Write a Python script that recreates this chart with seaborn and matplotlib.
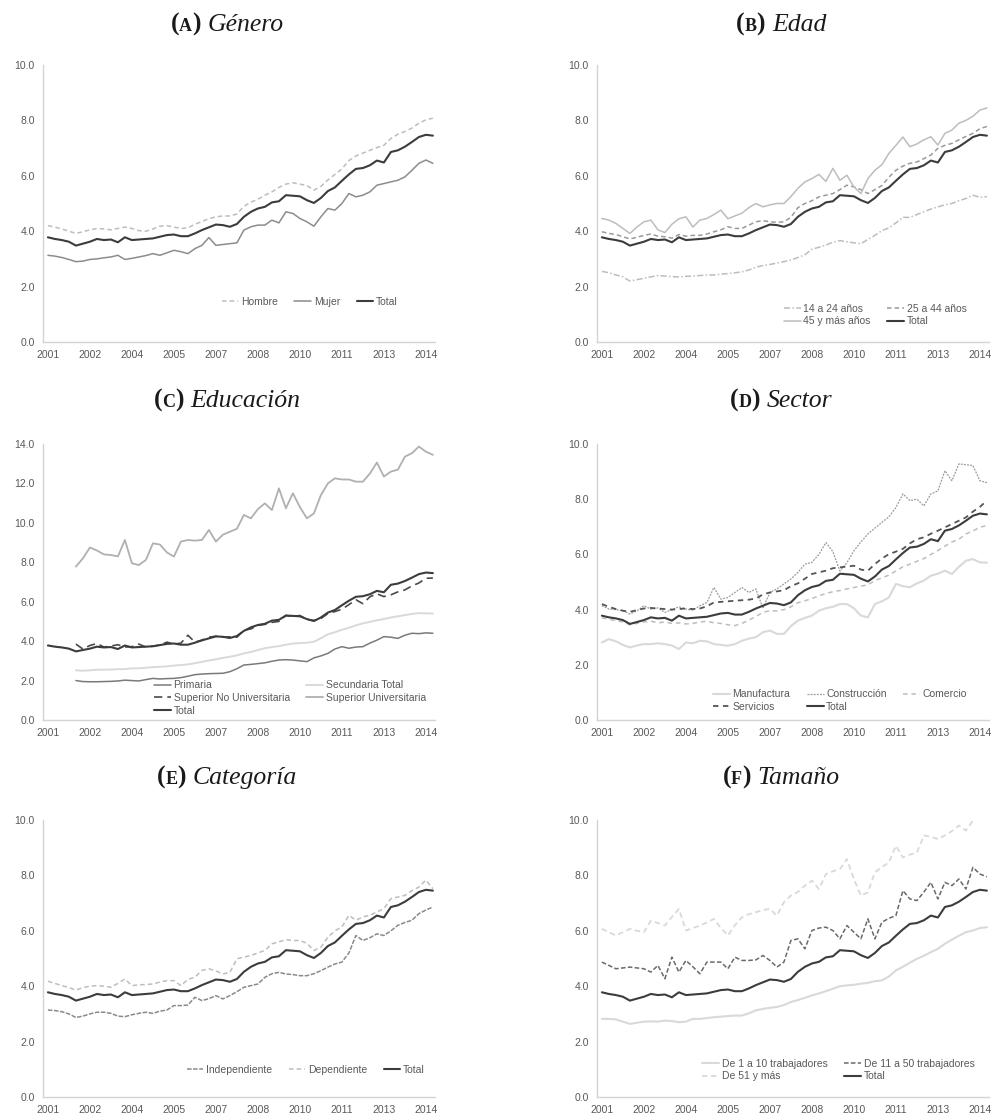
import numpy as np
import pandas as pd
import matplotlib
matplotlib.use("Agg")
import matplotlib.pyplot as plt
from matplotlib.transforms import IdentityTransform
import seaborn as sns

# ---------------- data (quarterly, 2001Q1-2014Q4) ----------------
nan = np.nan
tick_labels = ["2001", "2002", "2004", "2005", "2007", "2008", "2010", "2011", "2013", "2014"]

total = [3.78, 3.72, 3.68, 3.62, 3.48, 3.55, 3.62, 3.72, 3.68, 3.70, 3.60, 3.78, 3.68, 3.70,
         3.72, 3.74, 3.80, 3.86, 3.88, 3.82, 3.82, 3.92, 4.04, 4.14, 4.24, 4.22, 4.16, 4.26,
         4.52, 4.70, 4.82, 4.88, 5.04, 5.08, 5.30, 5.28, 5.26, 5.12, 5.02, 5.20, 5.45, 5.58,
         5.82, 6.05, 6.25, 6.28, 6.38, 6.55, 6.48, 6.86, 6.92, 7.05, 7.22, 7.40, 7.48, 7.45]

# (A) Género
hombre = [4.20, 4.15, 4.08, 4.00, 3.92, 3.98, 4.05, 4.10, 4.08, 4.05, 4.10, 4.15, 4.10, 4.02,
          4.00, 4.08, 4.18, 4.20, 4.15, 4.10, 4.12, 4.25, 4.35, 4.45, 4.52, 4.55, 4.55, 4.62,
          4.90, 5.05, 5.15, 5.30, 5.42, 5.58, 5.70, 5.75, 5.70, 5.65, 5.48, 5.62, 5.85, 6.05,
          6.25, 6.55, 6.72, 6.82, 6.92, 7.02, 7.10, 7.35, 7.50, 7.60, 7.72, 7.90, 8.02, 8.08]
mujer = [3.13, 3.10, 3.05, 2.98, 2.90, 2.92, 2.98, 3.00, 3.04, 3.07, 3.13, 2.98, 3.02, 3.07,
         3.12, 3.19, 3.13, 3.22, 3.31, 3.26, 3.19, 3.37, 3.49, 3.77, 3.49, 3.52, 3.55, 3.58,
         4.04, 4.16, 4.22, 4.22, 4.40, 4.30, 4.70, 4.64, 4.46, 4.34, 4.18, 4.52, 4.82, 4.76,
         5.00, 5.36, 5.24, 5.30, 5.42, 5.66, 5.72, 5.78, 5.84, 5.96, 6.20, 6.45, 6.57, 6.45]

# (B) Edad
edad_14_24 = [2.55, 2.50, 2.42, 2.35, 2.20, 2.25, 2.30, 2.35, 2.40, 2.38, 2.36, 2.35, 2.37, 2.38,
              2.40, 2.42, 2.42, 2.45, 2.47, 2.50, 2.53, 2.60, 2.70, 2.76, 2.80, 2.85, 2.90, 2.96,
              3.05, 3.15, 3.35, 3.42, 3.50, 3.60, 3.66, 3.62, 3.58, 3.55, 3.70, 3.85, 4.02, 4.12,
              4.30, 4.50, 4.50, 4.60, 4.70, 4.80, 4.88, 4.95, 5.00, 5.10, 5.18, 5.30, 5.22, 5.25]
edad_25_44 = [3.98, 3.92, 3.88, 3.80, 3.72, 3.78, 3.85, 3.90, 3.82, 3.80, 3.75, 3.88, 3.82, 3.85,
              3.85, 3.90, 3.98, 4.05, 4.16, 4.10, 4.10, 4.22, 4.34, 4.38, 4.34, 4.32, 4.34, 4.50,
              4.85, 5.00, 5.10, 5.24, 5.30, 5.36, 5.50, 5.66, 5.60, 5.50, 5.36, 5.50, 5.65, 5.95,
              6.20, 6.35, 6.45, 6.50, 6.62, 6.75, 6.99, 7.10, 7.17, 7.30, 7.42, 7.53, 7.70, 7.78]
edad_45_mas = [4.46, 4.40, 4.28, 4.10, 3.92, 4.15, 4.34, 4.40, 4.05, 3.95, 4.25, 4.45, 4.52, 4.15,
               4.40, 4.46, 4.60, 4.76, 4.45, 4.55, 4.65, 4.85, 5.00, 4.88, 4.95, 5.00, 5.00, 5.25,
               5.55, 5.78, 5.90, 6.05, 5.80, 6.27, 5.84, 6.02, 5.60, 5.36, 5.90, 6.20, 6.40, 6.81,
               7.10, 7.40, 7.05, 7.15, 7.30, 7.41, 7.11, 7.53, 7.65, 7.90, 8.00, 8.15, 8.37, 8.45]

# (C) Educación
primaria = [nan, nan, nan, nan, 2.00, 1.95, 1.94, 1.94, 1.95, 1.96, 1.98, 2.02, 2.00, 1.98,
            2.05, 2.11, 2.08, 2.10, 2.11, 2.15, 2.22, 2.30, 2.33, 2.35, 2.36, 2.37, 2.45, 2.60,
            2.79, 2.82, 2.86, 2.90, 2.98, 3.04, 3.06, 3.04, 3.00, 2.96, 3.15, 3.25, 3.38, 3.60,
            3.72, 3.64, 3.70, 3.72, 3.90, 4.05, 4.23, 4.20, 4.14, 4.30, 4.40, 4.38, 4.42, 4.40]
secundaria = [nan, nan, nan, nan, 2.52, 2.50, 2.52, 2.55, 2.55, 2.56, 2.58, 2.58, 2.62, 2.62,
              2.65, 2.68, 2.70, 2.72, 2.76, 2.79, 2.82, 2.88, 2.95, 3.02, 3.08, 3.15, 3.21, 3.28,
              3.38, 3.45, 3.55, 3.64, 3.70, 3.75, 3.82, 3.88, 3.90, 3.92, 3.97, 4.15, 4.35, 4.45,
              4.58, 4.68, 4.80, 4.90, 4.98, 5.06, 5.12, 5.20, 5.26, 5.32, 5.38, 5.42, 5.41, 5.40]
sup_no_univ = [nan, nan, nan, nan, 3.85, 3.60, 3.78, 3.88, 3.70, 3.75, 3.82, 3.70, 3.72, 3.85,
               3.70, 3.75, 3.80, 3.95, 3.85, 3.90, 4.30, 3.95, 4.05, 4.20, 4.25, 4.20, 4.22, 4.20,
               4.55, 4.62, 4.80, 4.85, 4.95, 5.00, 5.30, 5.25, 5.30, 5.10, 5.05, 5.15, 5.40, 5.50,
               5.62, 5.85, 6.10, 5.90, 6.25, 6.40, 6.26, 6.35, 6.50, 6.60, 6.80, 6.95, 7.19, 7.20]
sup_univ = [nan, nan, nan, nan, 7.78, 8.20, 8.75, 8.60, 8.40, 8.37, 8.30, 9.13, 7.95, 7.86,
            8.12, 8.96, 8.90, 8.50, 8.29, 9.05, 9.13, 9.10, 9.13, 9.64, 9.05, 9.40, 9.55, 9.70,
            10.40, 10.23, 10.70, 10.99, 10.65, 11.75, 10.74, 11.50, 10.80, 10.23, 10.48, 11.41,
            12.00, 12.26, 12.20, 12.20, 12.09, 12.09, 12.50, 13.06, 12.35, 12.60, 12.70, 13.36,
            13.53, 13.87, 13.61, 13.45]

# (D) Sector
manufactura = [2.81, 2.93, 2.85, 2.72, 2.63, 2.70, 2.75, 2.75, 2.78, 2.75, 2.70, 2.57, 2.81, 2.78,
               2.87, 2.85, 2.75, 2.72, 2.69, 2.75, 2.87, 2.95, 3.00, 3.18, 3.24, 3.12, 3.12, 3.40,
               3.60, 3.70, 3.78, 3.96, 4.05, 4.10, 4.20, 4.20, 4.05, 3.78, 3.72, 4.20, 4.30, 4.44,
               4.93, 4.85, 4.81, 4.95, 5.05, 5.23, 5.30, 5.41, 5.29, 5.55, 5.77, 5.83, 5.71, 5.70]
construccion = [4.14, 4.02, 4.00, 3.96, 3.84, 3.95, 4.14, 4.02, 4.06, 3.90, 4.00, 4.10, 4.02, 3.98,
                4.14, 4.26, 4.80, 4.38, 4.44, 4.62, 4.80, 4.62, 4.75, 4.05, 4.62, 4.75, 4.93, 5.11,
                5.35, 5.65, 5.71, 6.00, 6.43, 6.10, 5.40, 5.70, 6.13, 6.45, 6.74, 6.95, 7.16, 7.36,
                7.70, 8.19, 7.95, 8.00, 7.76, 8.19, 8.30, 9.03, 8.67, 9.28, 9.25, 9.22, 8.67, 8.60]
comercio = [3.70, 3.65, 3.60, 3.55, 3.45, 3.50, 3.55, 3.58, 3.52, 3.55, 3.50, 3.52, 3.48, 3.50,
            3.55, 3.58, 3.52, 3.50, 3.45, 3.42, 3.50, 3.62, 3.75, 3.90, 3.96, 3.95, 4.00, 4.10,
            4.25, 4.32, 4.40, 4.50, 4.58, 4.65, 4.69, 4.75, 4.80, 4.85, 4.90, 5.05, 5.15, 5.25,
            5.40, 5.55, 5.65, 5.75, 5.85, 6.00, 6.14, 6.30, 6.45, 6.55, 6.74, 6.85, 6.98, 7.05]
servicios = [4.20, 4.10, 4.02, 3.96, 3.92, 3.98, 4.04, 4.06, 4.04, 4.02, 4.00, 4.02, 4.04, 4.02,
             4.04, 4.12, 4.26, 4.28, 4.30, 4.32, 4.34, 4.36, 4.40, 4.55, 4.62, 4.66, 4.70, 4.85,
             4.95, 5.12, 5.29, 5.35, 5.41, 5.50, 5.53, 5.56, 5.59, 5.45, 5.41, 5.65, 5.85, 6.01,
             6.10, 6.20, 6.40, 6.55, 6.62, 6.75, 6.86, 6.98, 7.10, 7.22, 7.34, 7.55, 7.72, 7.95]

# (E) Categoría
independiente = [3.14, 3.12, 3.08, 3.00, 2.87, 2.92, 3.00, 3.06, 3.06, 3.02, 2.92, 2.90, 2.97, 3.02,
                 3.06, 3.02, 3.10, 3.14, 3.30, 3.30, 3.32, 3.60, 3.48, 3.55, 3.66, 3.54, 3.66, 3.80,
                 3.96, 4.02, 4.08, 4.32, 4.45, 4.50, 4.44, 4.42, 4.38, 4.38, 4.45, 4.56, 4.69, 4.80,
                 4.87, 5.20, 5.83, 5.65, 5.75, 5.89, 5.83, 6.00, 6.20, 6.30, 6.38, 6.62, 6.75, 6.86]
dependiente = [4.18, 4.10, 4.02, 3.95, 3.86, 3.95, 4.00, 4.02, 4.00, 3.96, 4.10, 4.26, 4.02, 4.05,
               4.06, 4.08, 4.15, 4.20, 4.20, 4.02, 4.25, 4.32, 4.57, 4.63, 4.55, 4.44, 4.50, 4.99,
               5.05, 5.11, 5.20, 5.29, 5.53, 5.60, 5.68, 5.65, 5.65, 5.55, 5.29, 5.41, 5.77, 6.00,
               6.14, 6.56, 6.38, 6.50, 6.56, 6.68, 6.80, 7.16, 7.22, 7.28, 7.45, 7.58, 7.83, 7.52]

# (F) Tamaño
de_1_10 = [2.82, 2.82, 2.80, 2.72, 2.64, 2.68, 2.72, 2.73, 2.72, 2.76, 2.74, 2.70, 2.72, 2.82,
           2.82, 2.85, 2.88, 2.90, 2.92, 2.94, 2.94, 3.02, 3.13, 3.18, 3.22, 3.25, 3.32, 3.43,
           3.50, 3.58, 3.67, 3.74, 3.82, 3.91, 4.00, 4.03, 4.05, 4.09, 4.12, 4.18, 4.21, 4.35,
           4.57, 4.70, 4.85, 4.99, 5.10, 5.23, 5.35, 5.53, 5.68, 5.82, 5.95, 6.01, 6.10, 6.13]
de_11_50 = [4.87, 4.75, 4.63, 4.66, 4.69, 4.66, 4.63, 4.51, 4.75, 4.27, 5.05, 4.51, 4.93, 4.70,
            4.45, 4.87, 4.87, 4.87, 4.63, 5.05, 4.93, 4.93, 4.95, 5.11, 4.93, 4.69, 4.87, 5.65,
            5.71, 5.35, 6.01, 6.10, 6.13, 6.01, 5.71, 6.19, 5.95, 5.71, 6.43, 5.71, 6.31, 6.45,
            6.55, 7.45, 7.15, 7.09, 7.40, 7.75, 7.15, 7.75, 7.63, 7.87, 7.51, 8.29, 8.05, 7.95]
de_51_mas = [6.07, 5.95, 5.83, 5.95, 6.07, 6.00, 5.95, 6.37, 6.28, 6.19, 6.50, 6.79, 6.01, 6.10,
             6.19, 6.30, 6.43, 6.10, 5.83, 6.20, 6.49, 6.60, 6.67, 6.75, 6.79, 6.55, 7.03, 7.27,
             7.40, 7.63, 7.81, 7.51, 8.05, 8.15, 8.23, 8.59, 7.87, 7.27, 7.39, 8.11, 8.30, 8.47,
             9.07, 8.65, 8.75, 8.83, 9.44, 9.40, 9.31, 9.44, 9.60, 9.80, 9.62, 9.98, 10.16, 10.30]

# ---------------- styles ----------------
DARK = "#3c3c3c"
MID = "#8c8c8c"
LIGHT = "#bdbdbd"
PALE = "#d9d9d9"
TXT = "#595959"

ST_TOTAL = dict(color=DARK, lw=1.5, ls="-")

panels = [
    dict(tag="A", name="Género", ymax=10, ncol=3, anchor=(0.68, 0.145),
         series=[("Hombre", hombre, dict(color=LIGHT, lw=1.1, ls=(0, (3, 2)))),
                 ("Mujer", mujer, dict(color=MID, lw=1.1, ls="-")),
                 ("Total", total, ST_TOTAL)],
         order=["Hombre", "Mujer", "Total"]),
    dict(tag="B", name="Edad", ymax=10, ncol=2, anchor=(0.71, 0.097),
         series=[("14 a 24 años", edad_14_24, dict(color=LIGHT, lw=1.1, ls=(0, (4, 1.5, 1, 1.5)))),
                 ("25 a 44 años", edad_25_44, dict(color="#9a9a9a", lw=1.1, ls=(0, (3, 2)))),
                 ("45 y más años", edad_45_mas, dict(color=LIGHT, lw=1.1, ls="-")),
                 ("Total", total, ST_TOTAL)],
         order=["14 a 24 años", "45 y más años", "25 a 44 años", "Total"]),
    dict(tag="C", name="Educación", ymax=14, ncol=2, anchor=(0.63, 0.08),
         series=[("Primaria", primaria, dict(color="#7a7a7a", lw=1.1, ls="-")),
                 ("Secundaria Total", secundaria, dict(color=PALE, lw=1.4, ls="-")),
                 ("Superior No Universitaria", sup_no_univ, dict(color="#4a4a4a", lw=1.2, ls=(0, (5, 3)))),
                 ("Superior Universitaria", sup_univ, dict(color="#b0b0b0", lw=1.3, ls="-")),
                 ("Total", total, ST_TOTAL)],
         order=["Primaria", "Superior No Universitaria", "Total",
                "Secundaria Total", "Superior Universitaria"]),
    dict(tag="D", name="Sector", ymax=10, ncol=3, anchor=(0.62, 0.07),
         series=[("Manufactura", manufactura, dict(color=PALE, lw=1.5, ls="-")),
                 ("Construcción", construccion, dict(color="#9a9a9a", lw=0.9, ls=(0, (1.5, 1)))),
                 ("Comercio", comercio, dict(color=LIGHT, lw=1.1, ls=(0, (3, 2.5)))),
                 ("Servicios", servicios, dict(color="#555555", lw=1.3, ls=(0, (3, 2.5)))),
                 ("Total", total, ST_TOTAL)],
         order=["Manufactura", "Servicios", "Construcción", "Total", "Comercio"]),
    dict(tag="E", name="Categoría", ymax=10, ncol=3, anchor=(0.67, 0.098),
         series=[("Independiente", independiente, dict(color="#8a8a8a", lw=1.1, ls=(0, (3, 1)))),
                 ("Dependiente", dependiente, dict(color=LIGHT, lw=1.1, ls=(0, (3, 2)))),
                 ("Total", total, ST_TOTAL)],
         order=["Independiente", "Dependiente", "Total"]),
    dict(tag="F", name="Tamaño", ymax=10, ncol=2, anchor=(0.616, 0.097),
         series=[("De 1 a 10 trabajadores", de_1_10, dict(color=PALE, lw=1.5, ls="-")),
                 ("De 11 a 50 trabajadores", de_11_50, dict(color="#6a6a6a", lw=1.1, ls=(0, (3, 1.5)))),
                 ("De 51 y más", de_51_mas, dict(color=PALE, lw=1.3, ls=(0, (3, 2)))),
                 ("Total", total, ST_TOTAL)],
         order=["De 1 a 10 trabajadores", "De 51 y más", "De 11 a 50 trabajadores", "Total"]),
]

# ---------------- figure ----------------
sns.set_theme(style="white")
plt.rcParams["font.family"] = ["Liberation Sans", "DejaVu Sans"]

W, H = 999, 1119
fig = plt.figure(figsize=(W / 100, H / 100), dpi=100)

col_left = [43, 597]
ax_w = 392
rows = [(65, 342), (444, 720), (820, 1097)]          # (top, bottom) in pixels
title_base = [31, 407, 784]
title_cx = [227, 781]

n = len(total)
t = np.arange(n)

for i, p in enumerate(panels):
    r, c = divmod(i, 2)
    top, bot = rows[r]
    ax = fig.add_axes([col_left[c] / W, 1 - bot / H, ax_w / W, (bot - top) / H])

    handles = {}
    for label, vals, st in p["series"]:
        df = pd.DataFrame({"t": t, "v": vals}).dropna()
        sns.lineplot(data=df, x="t", y="v", ax=ax, color=st["color"], linewidth=st["lw"],
                     linestyle=st["ls"], estimator=None, errorbar=None, label=label)
        handles[label] = ax.lines[-1]

    ax.set_xlim(-0.7, n - 0.7)
    ax.set_ylim(0, p["ymax"])
    ax.set_xticks(np.arange(0, n, 6))
    ax.set_xticklabels(tick_labels)
    yt = np.arange(0, p["ymax"] + 0.1, 2)
    ax.set_yticks(yt)
    ax.set_yticklabels([f"{v:.1f}" for v in yt])
    ax.set_xlabel("")
    ax.set_ylabel("")
    ax.tick_params(axis="both", length=0, labelsize=7.5, labelcolor=TXT)
    ax.tick_params(axis="y", pad=6)
    ax.tick_params(axis="x", pad=6)
    for s in ["top", "right"]:
        ax.spines[s].set_visible(False)
    for s in ["left", "bottom"]:
        ax.spines[s].set_color("#d4d4d4")
        ax.spines[s].set_linewidth(1.0)

    leg = ax.legend([handles[k] for k in p["order"]], p["order"], ncol=p["ncol"],
                    loc="center", bbox_to_anchor=p["anchor"], frameon=False,
                    fontsize=7.5, handlelength=1.6, handletextpad=0.25,
                    columnspacing=1.6, labelspacing=0.25, borderpad=0)
    for txt in leg.get_texts():
        txt.set_color(TXT)

    # panel title: bold small-caps tag followed by italic name, centred as one unit
    renderer = fig.canvas.get_renderer()
    serif = ["Liberation Serif", "DejaVu Serif"]
    pieces = [("(", dict(size=18.5, weight="bold")),
              (p["tag"], dict(size=13, weight="bold")),
              (")", dict(size=18.5, weight="bold")),
              ("\u2009", dict(size=18.5)),
              (p["name"], dict(size=18.5, style="italic"))]
    texts, widths = [], []
    for s, kw in pieces:
        tx = fig.text(0, 0, s, transform=IdentityTransform(), va="baseline", ha="left",
                      family=serif, color="#1a1a1a", **kw)
        texts.append(tx)
        widths.append(tx.get_window_extent(renderer).width if s.strip() else 7)
    x = title_cx[c] - sum(widths) / 2
    y = H - title_base[r]
    for tx, w in zip(texts, widths):
        tx.set_position((x, y))
        x += w

fig.savefig("out.png", dpi=100, facecolor="white")
